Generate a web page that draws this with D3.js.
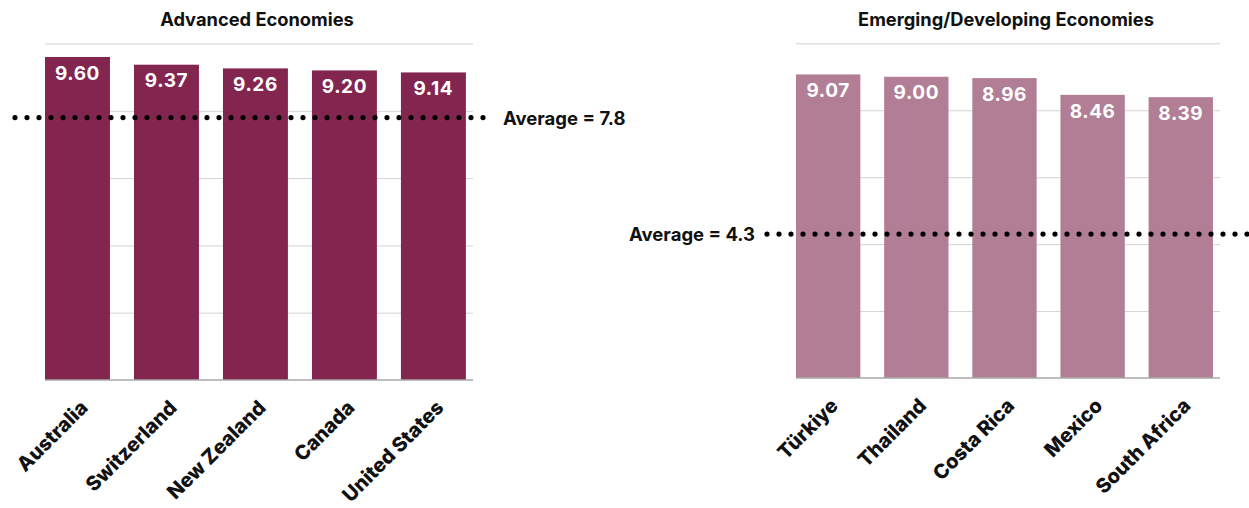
<!DOCTYPE html>
<html>
<head>
<meta charset="utf-8">
<script src="https://cdn.jsdelivr.net/npm/d3@7"></script>
<style>
  html, body { margin: 0; padding: 0; background: #fff; }
  svg { display: block; font-family: Inter, "Noto Sans", sans-serif; }
</style>
</head>
<body>
<svg id="chart" width="1249" height="508"></svg>
<script>
// ---- data ----
const advancedCountries = ["Australia", "Switzerland", "New Zealand", "Canada", "United States"];
const advancedValues = [9.60, 9.37, 9.26, 9.20, 9.14];
const advancedAverage = 7.8;

const emergingCountries = ["Türkiye", "Thailand", "Costa Rica", "Mexico", "South Africa"];
const emergingValues = [9.07, 9.00, 8.96, 8.46, 8.39];
const emergingAverage = 4.3;

const yDomain = [0, 10];
const yTicks = [0, 2, 4, 6, 8, 10];
const panelTitles = ["Advanced Economies", "Emerging/Developing Economies"];

// ---- layout ----
const svg = d3.select("#chart");

const panels = [
  {
    title: panelTitles[0], cats: advancedCountries, vals: advancedValues, avg: advancedAverage,
    x0: 45, x1: 473, yTop: 43.5, yBot: 380, color: "#82254F",
    avgLine: [15, 495], labelSide: "right"
  },
  {
    title: panelTitles[1], cats: emergingCountries, vals: emergingValues, avg: emergingAverage,
    x0: 796, x1: 1220, yTop: 43.3, yBot: 378, color: "#B27E96",
    avgLine: [767, 1249], labelSide: "left"
  }
];

panels.forEach(p => {
  const g = svg.append("g");
  const x = d3.scaleBand().domain(p.cats).range([p.x0, p.x1])
    .paddingInner(0.27).paddingOuter(0.04).align(0);
  const y = d3.scaleLinear().domain(yDomain).range([p.yBot, p.yTop]);

  // gridlines
  g.append("g")
    .attr("transform", `translate(${p.x0},0)`)
    .call(d3.axisLeft(y).tickValues(yTicks.filter(t => t > 0)).tickSize(-(p.x1 - p.x0)).tickFormat(""))
    .call(s => s.select(".domain").remove())
    .call(s => s.selectAll(".tick line").attr("stroke", "#d4d4d4").attr("stroke-width", 1));

  // bars
  const data = p.cats.map((c, i) => ({ c, v: p.vals[i] }));
  g.selectAll("rect.bar").data(data).join("rect")
    .attr("class", "bar")
    .attr("x", d => x(d.c))
    .attr("width", x.bandwidth())
    .attr("y", d => y(d.v))
    .attr("height", d => y(0) - y(d.v))
    .attr("fill", p.color);

  // value labels
  g.selectAll("text.val").data(data).join("text")
    .attr("class", "val")
    .attr("x", d => x(d.c) + x.bandwidth() / 2)
    .attr("y", d => y(d.v) + 22.7)
    .attr("text-anchor", "middle")
    .attr("fill", "#fff")
    .attr("font-weight", 700)
    .attr("font-size", 19)
    .attr("letter-spacing", 0.6)
    .text(d => d.v.toFixed(2));

  // x axis
  const xa = g.append("g")
    .attr("transform", `translate(0,${p.yBot})`)
    .call(d3.axisBottom(x).tickSize(0).tickPadding(0));
  xa.select(".domain").attr("stroke", "#a8a8a8").attr("stroke-width", 1.5)
    .attr("d", `M${p.x0},0H${p.x1}`);
  xa.selectAll(".tick text")
    .attr("font-family", "Inter, 'Noto Sans', sans-serif")
    .attr("font-size", 20)
    .attr("font-weight", 800)
    .attr("fill", "#111")
    .attr("text-anchor", "end")
    .attr("x", 0).attr("y", 0).attr("dy", 0)
    .attr("transform", `translate(${x.bandwidth() / 2 - 21},${29}) rotate(-45)`);

  // title
  svg.append("text")
    .attr("x", (p.x0 + p.x1) / 2 - 2)
    .attr("y", 26)
    .attr("text-anchor", "middle")
    .attr("font-weight", 700)
    .attr("font-size", 18.3)
    .attr("fill", "#111")
    .text(p.title);

  // average line (dotted)
  const ay = y(p.avg);
  svg.append("line")
    .attr("x1", p.avgLine[0]).attr("x2", p.avgLine[1])
    .attr("y1", ay).attr("y2", ay)
    .attr("stroke", "#000")
    .attr("stroke-width", 5.2)
    .attr("stroke-linecap", "round")
    .attr("stroke-dasharray", "0,12");

  svg.append("text")
    .attr("x", p.labelSide === "right" ? 503 : 755)
    .attr("y", ay + 7)
    .attr("text-anchor", p.labelSide === "right" ? "start" : "end")
    .attr("font-weight", 700)
    .attr("font-size", 18.5)
    .attr("fill", "#111")
    .text(`Average = ${p.avg}`);
});
</script>
</body>
</html>
